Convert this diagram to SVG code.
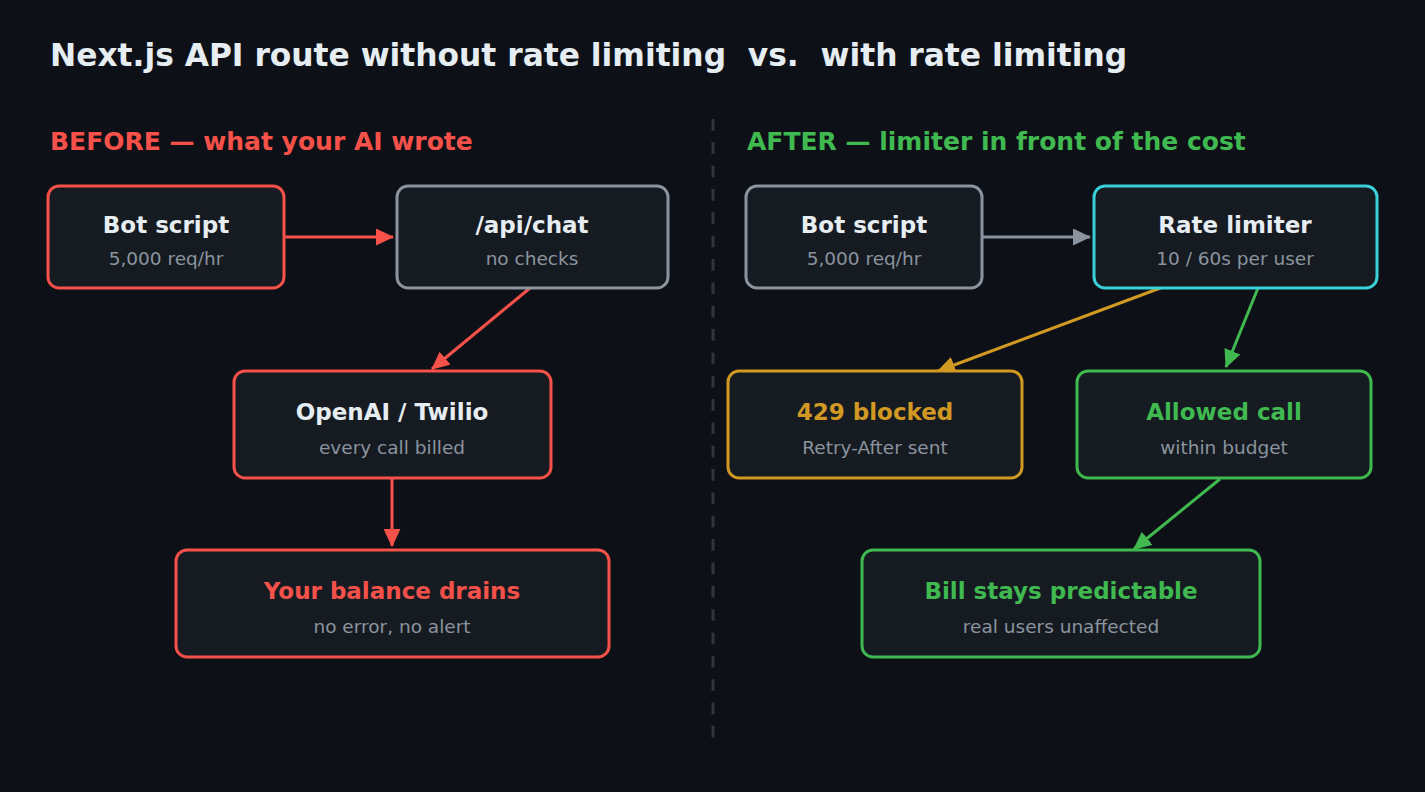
<svg xmlns="http://www.w3.org/2000/svg" width="1425" height="792" viewBox="0 0 1425 792">
<defs>
<style>
.bg{fill:#0d1017}
.node{fill:#161b22;stroke-width:3}
.t{font-family:"DejaVu Sans",sans-serif;font-weight:bold;font-size:23px;text-anchor:middle}
.s{font-family:"DejaVu Sans",sans-serif;font-size:18.5px;fill:#8b949e;text-anchor:middle}
.h{font-family:"DejaVu Sans",sans-serif;font-weight:bold;font-size:25px}
.c{fill:none;stroke-width:3}
</style>
<marker id="ar" viewBox="0 0 18 17" refX="17" refY="8.5" markerWidth="18" markerHeight="17" markerUnits="userSpaceOnUse" orient="auto"><path d="M0,0 L18,8.5 L0,17 Z" fill="#f85149"/></marker>
<marker id="ag" viewBox="0 0 18 17" refX="17" refY="8.5" markerWidth="18" markerHeight="17" markerUnits="userSpaceOnUse" orient="auto"><path d="M0,0 L18,8.5 L0,17 Z" fill="#8b949e"/></marker>
<marker id="ao" viewBox="0 0 18 17" refX="17" refY="8.5" markerWidth="18" markerHeight="17" markerUnits="userSpaceOnUse" orient="auto"><path d="M0,0 L18,8.5 L0,17 Z" fill="#d29922"/></marker>
<marker id="aG" viewBox="0 0 18 17" refX="17" refY="8.5" markerWidth="18" markerHeight="17" markerUnits="userSpaceOnUse" orient="auto"><path d="M0,0 L18,8.5 L0,17 Z" fill="#3fb950"/></marker>
</defs>
<rect class="bg" x="0" y="0" width="1425" height="792"/>
<text x="50" y="66" font-family="DejaVu Sans, sans-serif" font-weight="bold" font-size="31.3" fill="#e6edf3" xml:space="preserve">Next.js API route without rate limiting  vs.  with rate limiting</text>
<text class="h" x="50" y="150" fill="#f85149">BEFORE — what your AI wrote</text>
<text class="h" x="747" y="150" fill="#3fb950">AFTER — limiter in front of the cost</text>
<line x1="713" y1="119" x2="713" y2="738" stroke="#30363d" stroke-width="3" stroke-dasharray="11.67 11.67"/>

<g id="connectors">
<line class="c" x1="285" y1="237" x2="393" y2="237" stroke="#f85149" marker-end="url(#ar)"/>
<line class="c" x1="530" y1="288" x2="432" y2="369" stroke="#f85149" marker-end="url(#ar)"/>
<line class="c" x1="392" y1="479" x2="392" y2="546" stroke="#f85149" marker-end="url(#ar)"/>
<line class="c" x1="983" y1="237" x2="1090" y2="237" stroke="#8b949e" marker-end="url(#ag)"/>
<line class="c" x1="1163" y1="287" x2="938" y2="371" stroke="#d29922" marker-end="url(#ao)"/>
<line class="c" x1="1258" y1="288" x2="1226" y2="367" stroke="#3fb950" marker-end="url(#aG)"/>
<line class="c" x1="1220" y1="479" x2="1134" y2="549" stroke="#3fb950" marker-end="url(#aG)"/>
</g>

<g id="before-bot">
<rect class="node" x="48" y="186" width="236" height="102" rx="11" stroke="#f85149"/>
<text class="t" x="166" y="233" fill="#e6edf3">Bot script</text>
<text class="s" x="166" y="265">5,000 req/hr</text>
</g>
<g id="before-api">
<rect class="node" x="397" y="186" width="271" height="102" rx="11" stroke="#8b949e"/>
<text class="t" x="532" y="233" fill="#e6edf3">/api/chat</text>
<text class="s" x="532" y="265">no checks</text>
</g>
<g id="before-openai">
<rect class="node" x="234" y="371" width="317" height="107" rx="11" stroke="#f85149"/>
<text class="t" x="392" y="420" fill="#e6edf3">OpenAI / Twilio</text>
<text class="s" x="392" y="454">every call billed</text>
</g>
<g id="before-balance">
<rect class="node" x="176" y="550" width="433" height="107" rx="11" stroke="#f85149"/>
<text class="t" x="392" y="599" fill="#f85149">Your balance drains</text>
<text class="s" x="392" y="633">no error, no alert</text>
</g>

<g id="after-bot">
<rect class="node" x="746" y="186" width="236" height="102" rx="11" stroke="#8b949e"/>
<text class="t" x="864" y="233" fill="#e6edf3">Bot script</text>
<text class="s" x="864" y="265">5,000 req/hr</text>
</g>
<g id="after-limiter">
<rect class="node" x="1094" y="186" width="283" height="102" rx="11" stroke="#39d0d8"/>
<text class="t" x="1235" y="233" fill="#e6edf3">Rate limiter</text>
<text class="s" x="1235" y="265">10 / 60s per user</text>
</g>
<g id="after-blocked">
<rect class="node" x="728" y="371" width="294" height="107" rx="11" stroke="#d29922"/>
<text class="t" x="875" y="420" fill="#d29922">429 blocked</text>
<text class="s" x="875" y="454">Retry-After sent</text>
</g>
<g id="after-allowed">
<rect class="node" x="1077" y="371" width="294" height="107" rx="11" stroke="#3fb950"/>
<text class="t" x="1224" y="420" fill="#3fb950">Allowed call</text>
<text class="s" x="1224" y="454">within budget</text>
</g>
<g id="after-bill">
<rect class="node" x="862" y="550" width="398" height="107" rx="11" stroke="#3fb950"/>
<text class="t" x="1061" y="599" fill="#3fb950">Bill stays predictable</text>
<text class="s" x="1061" y="633">real users unaffected</text>
</g>
</svg>
